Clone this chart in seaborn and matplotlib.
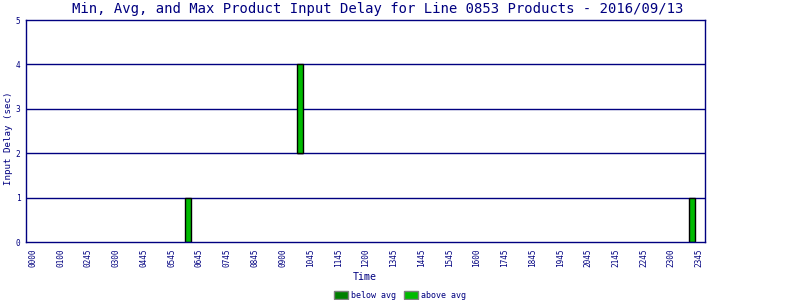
import matplotlib
matplotlib.use("Agg")
import matplotlib.pyplot as plt
import seaborn as sns
import pandas as pd
from matplotlib.patches import Patch

# ---- data ----
time_labels = ["0000", "0100", "0245", "0300", "0445", "0545", "0645", "0745",
               "0845", "0900", "1045", "1145", "1200", "1345", "1445", "1545",
               "1600", "1745", "1845", "1945", "2045", "2145", "2245", "2300", "2345"]
bar_pos = [5.59, 9.62, 23.75]        # position along the time axis (label-index units)
min_delay = [0, 2, 0]
avg_delay = [0, 2, 0]
max_delay = [1, 4, 1]

df = pd.DataFrame({"pos": bar_pos, "min": min_delay, "avg": avg_delay, "max": max_delay})

navy = "#000080"
below_col = "#008000"
above_col = "#00BB00"

sns.set_style("white")
plt.rcParams["font.family"] = ["DejaVu Sans Mono", "DejaVu Sans"]

fig = plt.figure(figsize=(8, 3), dpi=100)
ax = fig.add_axes([26 / 800, 58 / 300, (705 - 26) / 800, (242 - 20) / 300])

# gridlines
for y in [1, 2, 3, 4]:
    ax.axhline(y, color=navy, lw=1, zorder=1)

# below-avg part
ax.bar(df["pos"], df["avg"] - df["min"], bottom=df["min"], width=0.2,
       color=below_col, edgecolor="black", linewidth=1, zorder=2)
# above-avg part
ax.bar(df["pos"], df["max"] - df["avg"], bottom=df["avg"], width=0.2,
       color=above_col, edgecolor="black", linewidth=1, zorder=2)

ax.set_xlim(-0.25, 24.22)
ax.set_ylim(0, 5)
ax.set_xticks(range(len(time_labels)))
ax.set_xticklabels(time_labels, rotation=90, fontsize=5.6, color=navy)
ax.set_yticks([0, 1, 2, 3, 4, 5])
ax.set_yticklabels(["0", "1", "2", "3", "4", "5"], fontsize=5.6, color=navy)
ax.tick_params(axis="both", length=0, pad=5)
ax.tick_params(axis="y", pad=4)
for s in ax.spines.values():
    s.set_color(navy)
    s.set_linewidth(1)
    s.set_visible(True)
ax.grid(False)

fig.text(378 / 800, 1 - 8.5 / 300,
         "Min, Avg, and Max Product Input Delay for Line 0853 Products - 2016/09/13",
         ha="center", va="center", fontsize=10, color=navy)
fig.text(8.5 / 800, 1 - 138 / 300, "Input Delay (sec)", rotation=90,
         ha="center", va="center", fontsize=6.6, color=navy)
fig.text(365 / 800, 1 - 277 / 300, "Time", ha="center", va="center",
         fontsize=7.2, color=navy)

handles = [Patch(facecolor=below_col, edgecolor="gray", label="below avg"),
           Patch(facecolor=above_col, edgecolor="gray", label="above avg")]
leg = fig.legend(handles=handles, loc="center", bbox_to_anchor=(400 / 800, 1 - 295 / 300),
                 ncol=2, frameon=False, fontsize=6, handlelength=1.6, handleheight=1.1,
                 handletextpad=0.4, columnspacing=1.0, borderpad=0)
for t in leg.get_texts():
    t.set_color(navy)

fig.savefig("out.png", dpi=100, facecolor="white")
